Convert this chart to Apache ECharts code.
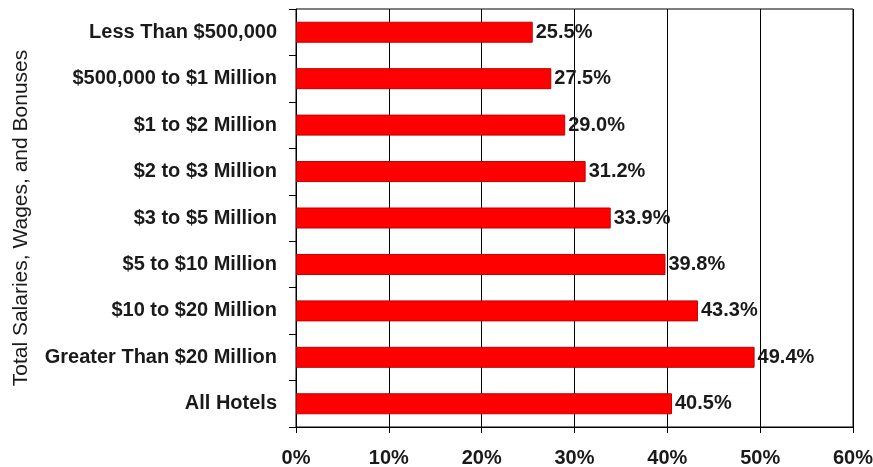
<!DOCTYPE html>
<html><head><meta charset="utf-8">
<script src="https://cdn.jsdelivr.net/npm/echarts@6/dist/echarts.min.js"></script>
<style>html,body{margin:0;padding:0;background:#fff}#c{width:873px;height:467px}</style>
</head><body><div id="c"></div>
<script>
const categories = ["Less Than $500,000","$500,000 to $1 Million","$1 to $2 Million","$2 to $3 Million","$3 to $5 Million","$5 to $10 Million","$10 to $20 Million","Greater Than $20 Million","All Hotels"];
const values = [25.5,27.5,29.0,31.2,33.9,39.8,43.3,49.4,40.5];
const xTicks = [0,10,20,30,40,50,60];
const yTitle = "Total Salaries, Wages, and Bonuses";
const font = "'Liberation Sans', Arial, sans-serif";
const chart = echarts.init(document.getElementById('c'));
chart.setOption({
  animation:false,
  grid:{left:296,right:20,top:9,bottom:40,outerBoundsMode:'none',containLabel:false,show:true,borderColor:'#000',borderWidth:1,backgroundColor:'transparent'},
  xAxis:{type:'value',min:xTicks[0],max:xTicks[xTicks.length-1],interval:10,
    axisLine:{show:true,lineStyle:{color:'#000',width:1}},
    axisTick:{show:true,length:6,lineStyle:{color:'#000'}},
    splitLine:{show:true,lineStyle:{color:'#000',width:1}},
    axisLabel:{formatter:'{value}%',color:'#1a1a1a',fontFamily:font,fontWeight:'bold',fontSize:20,margin:21}},
  yAxis:{type:'category',data:categories,inverse:true,
    name:yTitle,nameLocation:'middle',nameGap:264,nameRotate:90,
    nameTextStyle:{color:'#1a1a1a',fontFamily:font,fontWeight:'normal',fontSize:21},
    axisLine:{show:true,lineStyle:{color:'#000',width:1}},
    axisTick:{show:true,length:7,lineStyle:{color:'#000'}},
    axisLabel:{color:'#1a1a1a',fontFamily:font,fontWeight:'bold',fontSize:20,margin:19}},
  series:[{type:'bar',data:values,barWidth:21,
    itemStyle:{color:'#ff0000',borderColor:'#c00000',borderWidth:1},
    label:{show:true,position:'right',distance:3,formatter:p=>p.value.toFixed(1)+'%',
      color:'#1a1a1a',fontFamily:font,fontWeight:'bold',fontSize:20}}]
});
</script></body></html>
